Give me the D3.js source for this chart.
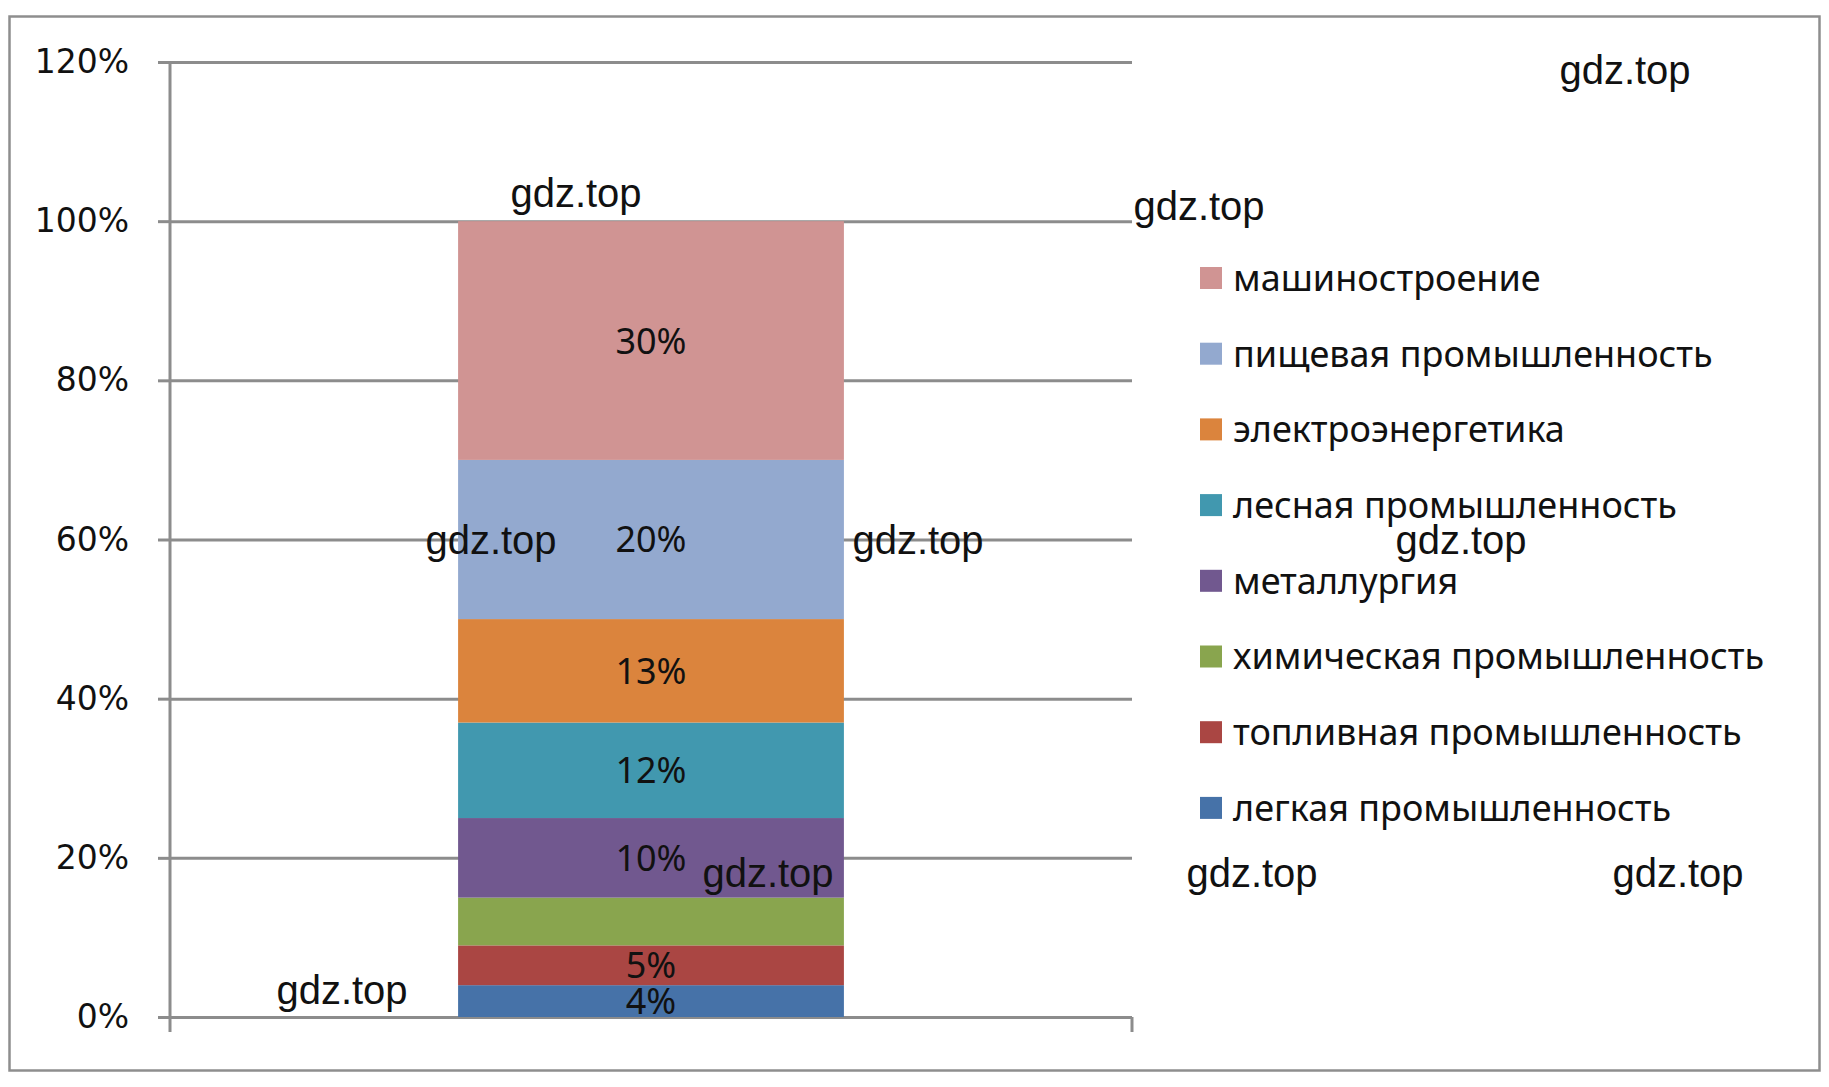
<!DOCTYPE html>
<html>
<head>
<meta charset="utf-8">
<script src="https://cdn.jsdelivr.net/npm/d3@7"></script>
<style>
  body { margin: 0; background: #fff; }
</style>
</head>
<body>
<div id="chart"></div>
<script>
// data, bottom to top of the stack
const categories = ["доля"];
const series = [
  "легкая промышленность",
  "топливная промышленность",
  "химическая промышленность",
  "металлургия",
  "лесная промышленность",
  "электроэнергетика",
  "пищевая промышленность",
  "машиностроение"
];
const values = [0.04, 0.05, 0.06, 0.10, 0.12, 0.13, 0.20, 0.30];
const showLabel = [true, true, false, true, true, true, true, true];
const colors = ["#4672a8", "#aa4643", "#89a54e", "#71588f", "#4198af", "#db843d", "#93a9cf", "#d09493"];
const yTicks = [0, 0.2, 0.4, 0.6, 0.8, 1.0, 1.2];
const watermarks = [
  [1625, 70], [576, 193], [1199, 206], [491, 540], [918, 540], [1461, 540],
  [768, 873], [1252, 873], [1678, 873], [342, 990]
];

const W = 1829, H = 1087;
const margin = { top: 62, right: 697, bottom: 70, left: 170 };
const width = W - margin.left - margin.right;
const height = H - margin.top - margin.bottom;

const svg = d3.select("#chart").append("svg")
  .attr("width", W).attr("height", H)
  .style("font-family", "'Noto Sans', sans-serif");

// outer frame
svg.append("rect")
  .attr("x", 9.5).attr("y", 16.5)
  .attr("width", 1810).attr("height", 1054)
  .attr("fill", "none").attr("stroke", "#8e8e8e").attr("stroke-width", 2.5);

const g = svg.append("g").attr("transform", `translate(${margin.left},${margin.top})`);

const x = d3.scaleBand().domain(categories).range([0, width]).padding(0.4275);
const y = d3.scaleLinear().domain([0, 1.2]).range([height, 0]);

// grid lines
g.append("g")
  .call(d3.axisLeft(y).tickValues(yTicks).tickSize(-width).tickFormat(""))
  .call(s => s.select(".domain").remove())
  .selectAll("line").attr("stroke", "#8c8c8c").attr("stroke-width", 3);

// y axis with outer ticks + labels
const yAxis = g.append("g")
  .call(d3.axisLeft(y).tickValues(yTicks).tickSize(12).tickPadding(29)
    .tickFormat(d3.format(".0%")));
yAxis.select(".domain").remove();
yAxis.selectAll("line").attr("stroke", "#8c8c8c").attr("stroke-width", 3);
yAxis.selectAll("text")
  .attr("fill", "#111")
  .style("font-family", "'DejaVu Sans', sans-serif")
  .style("font-size", "33px");

// vertical axis line (runs a little below 0)
g.append("line")
  .attr("x1", 0).attr("x2", 0)
  .attr("y1", 0).attr("y2", height + 15)
  .attr("stroke", "#8c8c8c").attr("stroke-width", 3);

// right end tick of category axis
g.append("line")
  .attr("x1", width).attr("x2", width)
  .attr("y1", height).attr("y2", height + 15)
  .attr("stroke", "#8c8c8c").attr("stroke-width", 3);

// stacked segments
const stacked = [];
let acc = 0;
values.forEach((v, i) => {
  stacked.push({ name: series[i], v, y0: acc, y1: acc + v, color: colors[i], label: showLabel[i] });
  acc += v;
});

g.selectAll(".seg")
  .data(stacked)
  .enter()
  .append("rect")
  .attr("class", "seg")
  .attr("x", x(categories[0]))
  .attr("width", x.bandwidth())
  .attr("y", d => y(d.y1))
  .attr("height", d => y(d.y0) - y(d.y1))
  .attr("fill", d => d.color);

g.selectAll(".lbl")
  .data(stacked.filter(d => d.label))
  .enter()
  .append("text")
  .attr("class", "lbl")
  .attr("x", x(categories[0]) + x.bandwidth() / 2)
  .attr("y", d => y((d.y0 + d.y1) / 2))
  .attr("dy", "0.36em")
  .attr("text-anchor", "middle")
  .style("font-size", "36px")
  .attr("fill", "#111")
  .text(d => d3.format(".0%")(d.v));

// legend, top item = last series
const legend = svg.append("g").attr("transform", "translate(1200, 278)");
const legendItems = stacked.slice().reverse();
legend.selectAll("rect")
  .data(legendItems)
  .enter()
  .append("rect")
  .attr("x", 0)
  .attr("y", (d, i) => i * 75.7 - 11)
  .attr("width", 22).attr("height", 22)
  .attr("fill", d => d.color);
legend.selectAll("text")
  .data(legendItems)
  .enter()
  .append("text")
  .attr("x", 33)
  .attr("y", (d, i) => i * 75.7)
  .attr("dy", "0.36em")
  .style("font-size", "36px")
  .attr("fill", "#111")
  .text(d => d.name);

// watermarks
svg.selectAll(".wm")
  .data(watermarks)
  .enter()
  .append("text")
  .attr("class", "wm")
  .attr("x", d => d[0])
  .attr("y", d => d[1])
  .attr("dy", "0.35em")
  .attr("text-anchor", "middle")
  .style("font-family", "'Liberation Sans', Arial, sans-serif")
  .style("font-size", "40px")
  .attr("fill", "#111")
  .text("gdz.top");
</script>
</body>
</html>
